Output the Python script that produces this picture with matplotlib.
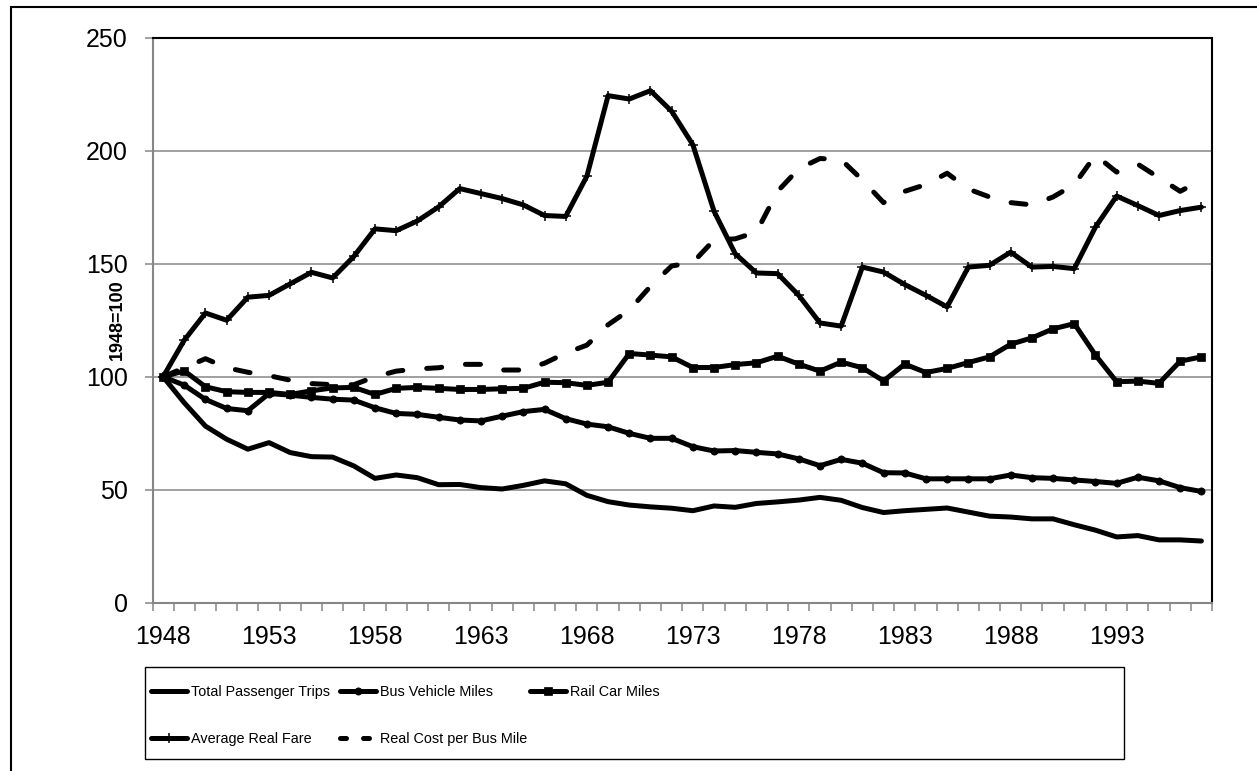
import matplotlib
matplotlib.use("Agg")
import matplotlib.pyplot as plt
from matplotlib.lines import Line2D
from matplotlib.patches import Rectangle
from matplotlib import font_manager
import numpy as np

# ---------------- data ----------------
years = list(range(1948, 1998))
tick_years = [1948, 1953, 1958, 1963, 1968, 1973, 1978, 1983, 1988, 1993]
y_ticks = [0, 50, 100, 150, 200, 250]

total_passenger_trips = [100, 88.5, 78.2, 72.4, 68.0, 70.9, 66.5, 64.7, 64.5, 60.6,
                         55.1, 56.6, 55.4, 52.3, 52.4, 51.0, 50.4, 52.0, 54.0, 52.7,
                         47.6, 44.8, 43.3, 42.5, 41.9, 40.8, 42.9, 42.3, 44.0, 44.7,
                         45.5, 46.7, 45.4, 42.2, 40.0, 40.8, 41.4, 42.0, 40.2, 38.4,
                         38.0, 37.2, 37.2, 34.6, 32.2, 29.2, 29.8, 27.9, 27.9, 27.4]
bus_vehicle_miles = [100, 96.3, 90.0, 86.0, 85.0, 92.6, 91.9, 90.9, 90.1, 89.7,
                     86.3, 83.8, 83.4, 82.1, 80.9, 80.5, 82.6, 84.6, 85.6, 81.5,
                     79.1, 77.9, 75.0, 72.8, 72.8, 69.1, 67.2, 67.4, 66.6, 65.9,
                     63.7, 60.7, 63.5, 61.8, 57.6, 57.5, 54.9, 54.9, 54.9, 54.9,
                     56.6, 55.4, 55.1, 54.4, 53.7, 52.9, 55.6, 54.0, 51.0, 49.3]
rail_car_miles = [100, 102.6, 95.6, 93.4, 93.1, 93.1, 92.2, 93.8, 95.1, 95.3,
                  92.2, 94.9, 95.3, 94.9, 94.4, 94.4, 94.7, 94.9, 97.6, 97.4,
                  96.2, 97.6, 110.3, 109.6, 108.8, 104.1, 104.1, 105.4, 106.2, 109.1,
                  105.6, 102.5, 106.5, 104.0, 98.2, 105.6, 101.9, 103.7, 106.3, 108.8,
                  114.4, 117.2, 121.2, 123.5, 109.6, 97.8, 98.1, 97.1, 106.9, 108.8]
average_real_fare = [100, 116.2, 128.2, 125.0, 135.2, 136.0, 141.1, 146.2, 143.7, 153.2,
                     165.4, 164.6, 168.9, 175.1, 183.2, 181.0, 178.8, 176.0, 171.3, 170.9,
                     188.7, 224.3, 222.8, 226.5, 217.4, 202.6, 173.2, 154.4, 145.9, 145.6,
                     136.0, 123.8, 122.4, 148.5, 146.3, 140.8, 136.0, 130.9, 148.5, 149.3,
                     155.1, 148.5, 148.8, 147.8, 166.2, 179.9, 175.7, 171.3, 173.5, 175.0]
real_cost_per_bus_mile = [100, 104, 108, 104, 102, 100.5, 98.5, 97, 96.5, 96.5,
                          100, 102.5, 103.5, 104, 105.5, 105.5, 103, 103, 106, 110.5,
                          114, 123, 129.5, 140, 149, 150.5, 160.5, 161, 164, 182,
                          192, 196.5, 196, 187, 177, 182, 185, 190, 183, 179.5,
                          177, 176, 179.5, 185, 198, 190.5, 194, 188, 182, 187]

series_labels = ["Total Passenger Trips", "Bus Vehicle Miles", "Rail Car Miles",
                 "Average Real Fare", "Real Cost per Bus Mile"]

# ---------------- fonts ----------------
names = {f.name for f in font_manager.fontManager.ttflist}
AX_FONT = "Liberation Sans" if "Liberation Sans" in names else "DejaVu Sans"
if "Liberation Sans Narrow" in names:
    LEG_FONT, LEG_SIZE = "Liberation Sans Narrow", 12.0
else:
    LEG_FONT, LEG_SIZE = AX_FONT, 10.4
plt.rcParams["font.family"] = [AX_FONT, "DejaVu Sans"]

W, H = 1257, 771
DPI = 100
fig = plt.figure(figsize=(W / DPI, H / DPI), dpi=DPI)
fig.patch.set_facecolor("white")

def fx(px):
    return px / W

def fy(py):
    return 1 - py / H

left, right, top, bottom = 152.5, 1212, 37.5, 603
ax = fig.add_axes([fx(left), fy(bottom), fx(right) - fx(left), fy(top) - fy(bottom)])

GRAY = "#868686"
LW = 3.6

common = dict(color="black", lw=LW, solid_joinstyle="round", solid_capstyle="round",
              dash_joinstyle="round", dash_capstyle="round")

ax.plot(years, total_passenger_trips, **common, zorder=3)
ax.plot(years, bus_vehicle_miles, marker="o", ms=5.2, mew=0.5, mfc="black", mec="black",
        **common, zorder=3)
ax.plot(years, rail_car_miles, marker="s", ms=5.6, mew=0.5, mfc="black", mec="black",
        **common, zorder=3)
ax.plot(years, average_real_fare, marker="+", ms=7.5, mew=1.1, mec="black",
        **common, zorder=3)
ax.plot(years, real_cost_per_bus_mile, dashes=(3.0, 4.8), **common, zorder=3)

ax.set_xlim(1947.5, 1997.5)
ax.set_ylim(0, 250)
ax.set_yticks(y_ticks)
ax.set_yticklabels([str(v) for v in y_ticks])
ax.set_xticks(tick_years)
ax.set_xticklabels([str(y) for y in tick_years])
ax.set_xticks(np.arange(1947.5, 1998.0, 1.0), minor=True)

ax.tick_params(axis="x", which="major", length=0, pad=15.8, labelsize=18, colors="black")
ax.tick_params(axis="x", which="minor", length=5.8, width=1.1, color=GRAY, direction="out")
ax.tick_params(axis="y", which="major", length=5.8, width=1.1, color=GRAY, pad=12,
               labelsize=18, labelcolor="black", direction="out")

ax.grid(axis="y", color=GRAY, lw=1.1, zorder=1)
ax.set_axisbelow(True)
for s in ["left", "bottom"]:
    ax.spines[s].set_color(GRAY)
    ax.spines[s].set_linewidth(1.5)
for s in ["top", "right"]:
    ax.spines[s].set_color("black")
    ax.spines[s].set_linewidth(1.5)

fig.text(fx(117), fy(320), "1948=100", rotation=90, ha="center", va="center",
         fontsize=13, fontweight="bold")

# outer chart border
fig.patches.append(Rectangle((fx(11), -0.05), 1.1, fy(7.5) + 0.05, transform=fig.transFigure,
                             fill=False, ec="black", lw=1.5, clip_on=False))
# legend border
fig.patches.append(Rectangle((fx(145), fy(759)), fx(1124) - fx(145), fy(667) - fy(759),
                             transform=fig.transFigure, fill=False, ec="black", lw=1.0))

# legend entries (one per slot, Excel-like grid)
proxy = [
    Line2D([], [], **common),
    Line2D([], [], marker="o", ms=5.2, mew=0.5, mfc="black", mec="black", **common),
    Line2D([], [], marker="s", ms=5.6, mew=0.5, mfc="black", mec="black", **common),
    Line2D([], [], marker="+", ms=7.5, mew=1.1, mec="black", **common),
    Line2D([], [], dashes=(1.2, 3.4), **common),
]
slots = [(150.5, 692), (339.5, 692), (529.5, 692), (150.5, 739), (339.5, 739)]
fs_px = LEG_SIZE * DPI / 72.0
for h, lab, (xp, yp) in zip(proxy, series_labels, slots):
    leg = fig.legend([h], [lab], loc="center left", bbox_to_anchor=(fx(xp), fy(yp)),
                     bbox_transform=fig.transFigure, frameon=False, borderpad=0,
                     borderaxespad=0, handlelength=36 / fs_px, handletextpad=0.3,
                     numpoints=1, prop={"family": [LEG_FONT, "DejaVu Sans"], "size": LEG_SIZE})

fig.savefig("out.png", dpi=DPI, facecolor="white")
